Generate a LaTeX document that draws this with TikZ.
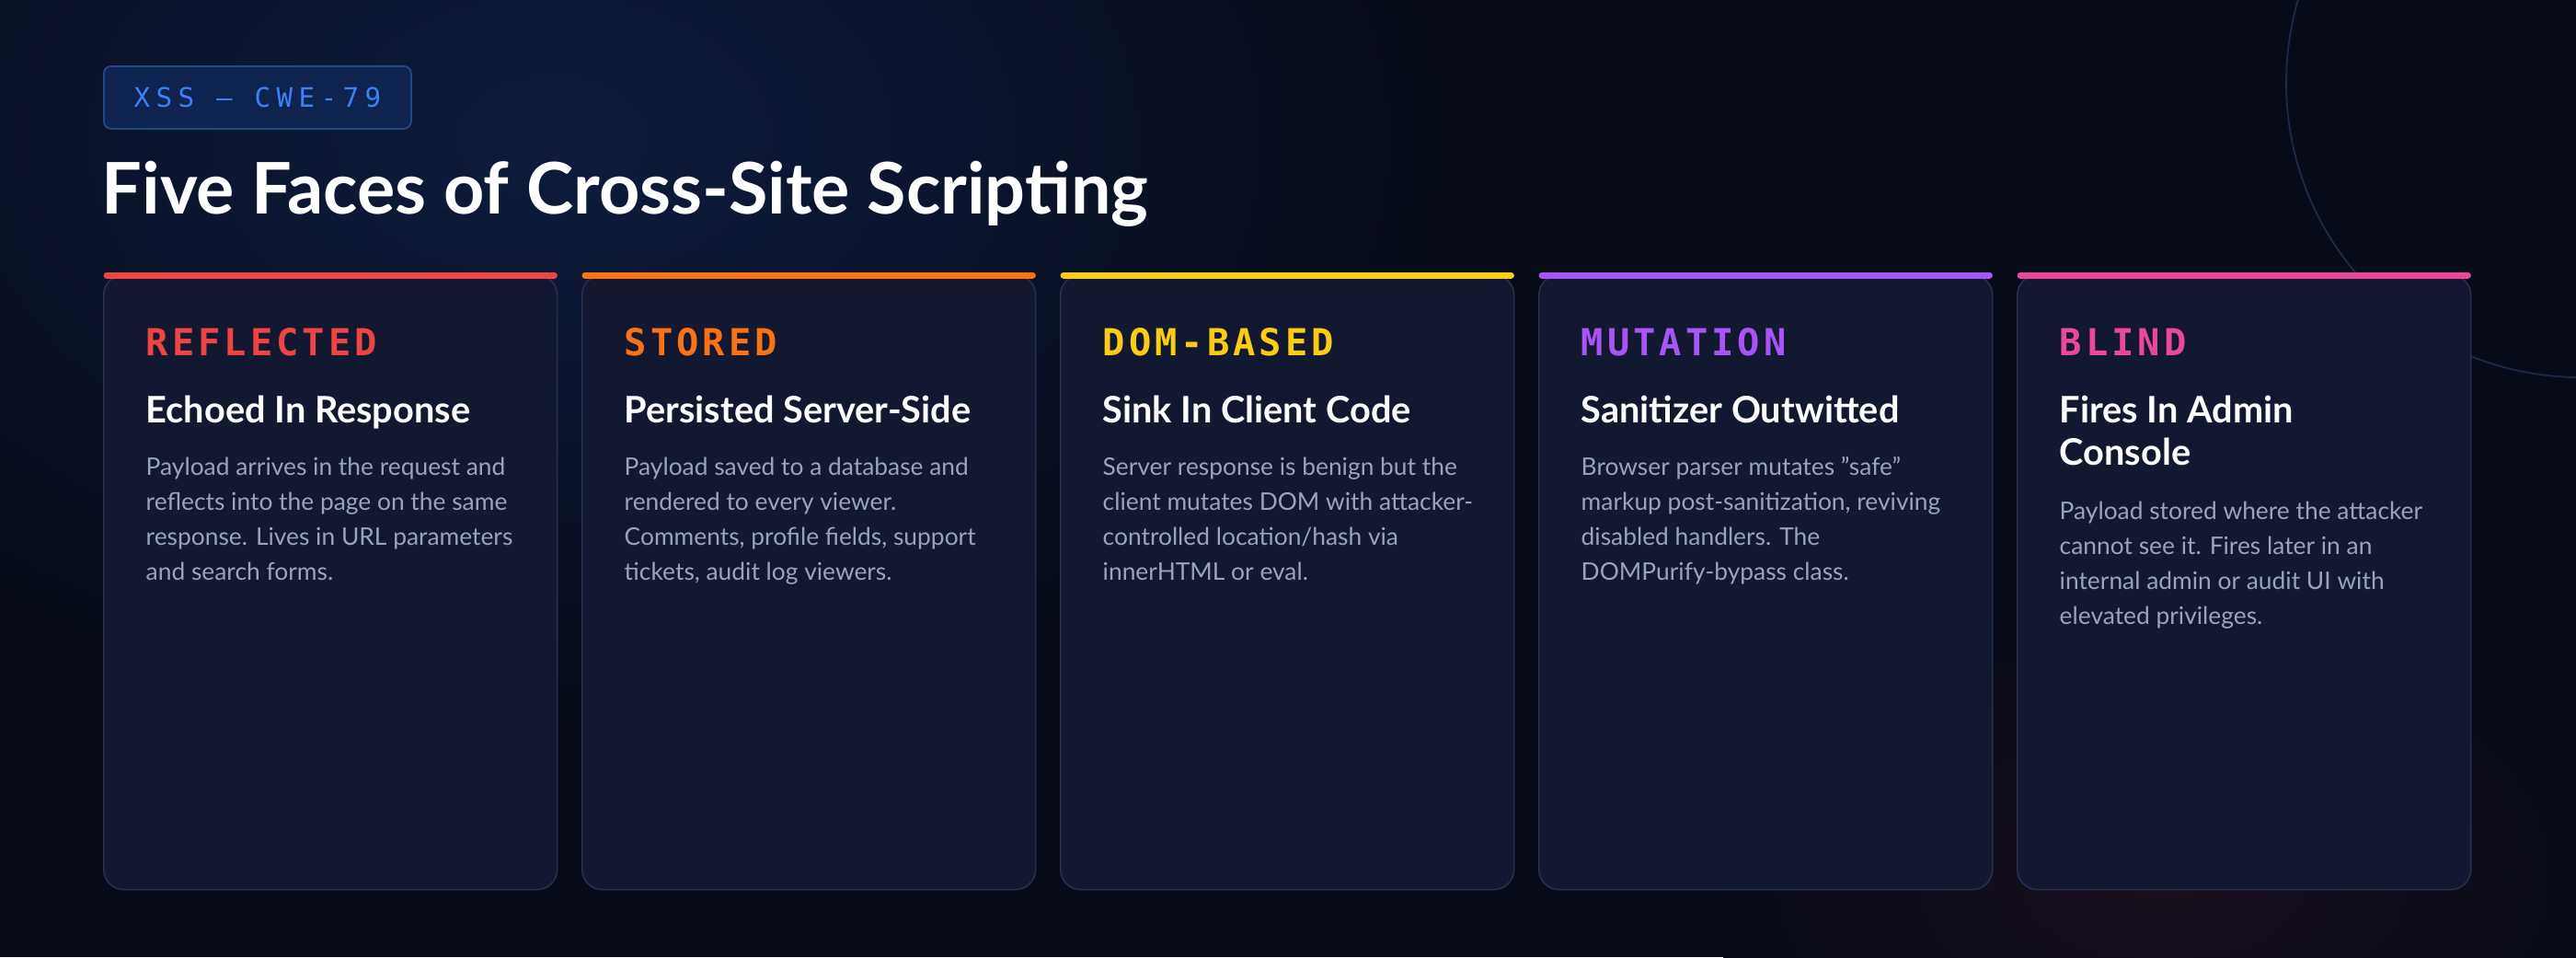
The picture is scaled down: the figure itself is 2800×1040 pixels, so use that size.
\documentclass[tikz,border=0pt]{standalone}
\usepackage{fontspec}
\setmainfont{Lato}
\newfontfamily\monofont[LetterSpace=10]{DejaVu Sans Mono}
\newfontfamily\tagfont[LetterSpace=22]{DejaVu Sans Mono}
\usetikzlibrary{positioning}
\definecolor{bgdark}{HTML}{080C18}
\definecolor{bgglow}{HTML}{0E1B3D}
\definecolor{bgred}{HTML}{1A0F1E}
\definecolor{cardfill}{HTML}{121830}
\definecolor{cardline}{HTML}{2A3150}
\definecolor{ringline}{HTML}{1E2A4A}
\definecolor{bodygray}{HTML}{9AA3B8}
\definecolor{tagblue}{HTML}{3B82F6}
\definecolor{tagfill}{HTML}{0F2350}
\definecolor{cred}{HTML}{EF4444}
\definecolor{corange}{HTML}{F97316}
\definecolor{cyellow}{HTML}{FACC15}
\definecolor{cpurple}{HTML}{A855F7}
\definecolor{cpink}{HTML}{EC4899}
\tikzstyle{card} = [rectangle, rounded corners=2.2mm, minimum width=49.3mm, minimum height=66.8mm, draw=cardline, line width=0.4pt, fill=cardfill, inner sep=0pt, anchor=north west]
\tikzstyle{kind} = [anchor=base west, inner sep=0pt, font=\monofont\fontsize{11.5}{12}\selectfont\bfseries]
\tikzstyle{headline} = [anchor=base west, inner sep=0pt, text=white, font=\fontsize{11.3}{13}\selectfont\bfseries, align=left]
\tikzstyle{body} = [anchor=base west, inner sep=0pt, text=bodygray, font=\fontsize{7.5}{10.8}\selectfont, align=left]
\tikzstyle{topbar} = [line width=0.7mm, line cap=round]
\begin{document}
\begin{tikzpicture}[x=0.1mm, y=-0.1mm]
\useasboundingbox (0,0) rectangle (2800,1040);
\clip (0,0) rectangle (2800,1040);

% Background
\fill[bgdark] (0,0) rectangle (2800,1040);
\shade[inner color=bgred, outer color=bgdark] (2350,950) ellipse (500 and 300);
\shade[inner color=bgglow, outer color=bgdark] (600,150) ellipse (1000 and 650);
\draw[ringline, line width=0.5pt] (2805,90) circle (320);

% Tag and title
\node (tag) [rectangle, rounded corners=0.8mm, draw=tagblue!55!black, fill=tagfill, line width=0.5pt, minimum width=33.4mm, minimum height=6.8mm, anchor=north west, text=tagblue, font=\tagfont\fontsize{8.3}{9}\selectfont] at (112,71) {XSS — CWE-79};
\node (title) [anchor=base west, inner sep=0pt, text=white, font=\bfseries\fontsize{22}{26}\selectfont] at (110,232) {Five Faces of Cross-Site Scripting};

% Cards
\node (reflected) [card] at (112,298) {};
\node (stored) [card] at (632,298) {};
\node (dombased) [card] at (1152,298) {};
\node (mutation) [card] at (1672,298) {};
\node (blind) [card] at (2192,298) {};

\foreach \c/\col in {reflected/cred, stored/corange, dombased/cyellow, mutation/cpurple, blind/cpink}
  \draw[topbar, \col] ([xshift=0.4mm,yshift=-0.1mm]\c.north west) -- ([xshift=-0.4mm,yshift=-0.1mm]\c.north east);

% Card texts (base anchor sits on the last line)
\node (reflectedkind) [kind, text=cred] at ([xshift=4.6mm,yshift=-8.8mm]reflected.north west) {REFLECTED};
\node (reflectedhead) [headline] at ([xshift=4.6mm,yshift=-16.1mm]reflected.north west) {Echoed In Response};
\node (reflectedbody) [body] at ([xshift=4.6mm,yshift=-33.2mm]reflected.north west) {Payload arrives in the request and\\reflects into the page on the same\\response. Lives in URL parameters\\and search forms.};

\node (storedkind) [kind, text=corange] at ([xshift=4.6mm,yshift=-8.8mm]stored.north west) {STORED};
\node (storedhead) [headline] at ([xshift=4.6mm,yshift=-16.1mm]stored.north west) {Persisted Server-Side};
\node (storedbody) [body] at ([xshift=4.6mm,yshift=-33.2mm]stored.north west) {Payload saved to a database and\\rendered to every viewer.\\Comments, profile fields, support\\tickets, audit log viewers.};

\node (dombasedkind) [kind, text=cyellow] at ([xshift=4.6mm,yshift=-8.8mm]dombased.north west) {DOM-BASED};
\node (dombasedhead) [headline] at ([xshift=4.6mm,yshift=-16.1mm]dombased.north west) {Sink In Client Code};
\node (dombasedbody) [body] at ([xshift=4.6mm,yshift=-33.2mm]dombased.north west) {Server response is benign but the\\client mutates DOM with attacker-\\controlled location/hash via\\innerHTML or eval.};

\node (mutationkind) [kind, text=cpurple] at ([xshift=4.6mm,yshift=-8.8mm]mutation.north west) {MUTATION};
\node (mutationhead) [headline] at ([xshift=4.6mm,yshift=-16.1mm]mutation.north west) {Sanitizer Outwitted};
\node (mutationbody) [body] at ([xshift=4.6mm,yshift=-33.2mm]mutation.north west) {Browser parser mutates "safe"\\markup post-sanitization, reviving\\disabled handlers. The\\DOMPurify-bypass class.};

\node (blindkind) [kind, text=cpink] at ([xshift=4.6mm,yshift=-8.8mm]blind.north west) {BLIND};
\node (blindhead) [headline] at ([xshift=4.6mm,yshift=-20.7mm]blind.north west) {Fires In Admin\\Console};
\node (blindbody) [body] at ([xshift=4.6mm,yshift=-38mm]blind.north west) {Payload stored where the attacker\\cannot see it. Fires later in an\\internal admin or audit UI with\\elevated privileges.};

\end{tikzpicture}
\end{document}
